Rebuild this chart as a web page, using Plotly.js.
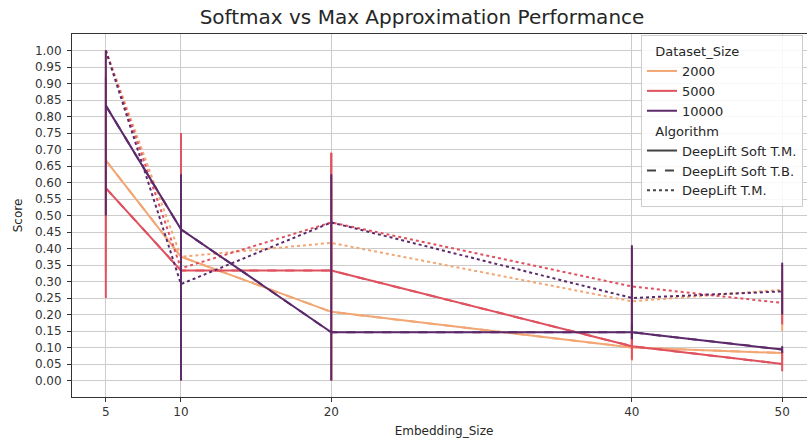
<!DOCTYPE html>
<html><head><meta charset="utf-8">
<script src="https://cdn.plot.ly/plotly-3.0.1.min.js"></script>
<style>html,body{margin:0;padding:0;overflow:hidden;background:#fff}#chart{width:820px;height:443px}</style>
</head><body><div id="chart"></div>
<script>
// ---- data ----
const embeddingSizes = [5, 10, 20, 40, 50];
const datasetSizes = ["2000", "5000", "10000"];
const algorithms = ["DeepLift Soft T.M.", "DeepLift Soft T.B.", "DeepLift T.M."];

// DeepLift Soft T.M. scores
const softTM_2000  = [0.667, 0.375, 0.208, 0.100, 0.083];
const softTM_5000  = [0.583, 0.333, 0.333, 0.104, 0.050];
const softTM_10000 = [0.833, 0.458, 0.146, 0.146, 0.094];
// DeepLift Soft T.B. scores (coincide with Soft T.M.)
const softTB_2000  = [0.667, 0.375, 0.208, 0.100, 0.083];
const softTB_5000  = [0.583, 0.333, 0.333, 0.104, 0.050];
const softTB_10000 = [0.833, 0.458, 0.146, 0.146, 0.094];
// DeepLift T.M. scores
const tm_2000  = [1.000, 0.375, 0.417, 0.240, 0.275];
const tm_5000  = [1.000, 0.340, 0.479, 0.285, 0.235];
const tm_10000 = [1.000, 0.292, 0.479, 0.250, 0.270];

// error bar bounds (lower / upper)
const softTM_2000_lo  = [0.33, 0.25, 0.00, 0.06, 0.06];
const softTM_2000_hi  = [1.00, 0.50, 0.42, 0.14, 0.10];
const softTM_5000_lo  = [0.25, 0.00, 0.00, 0.063, 0.028];
const softTM_5000_hi  = [0.92, 0.75, 0.69, 0.15, 0.09];
const softTM_10000_lo = [0.50, 0.00, 0.00, 0.125, 0.083];
const softTM_10000_hi = [1.00, 0.625, 0.30, 0.17, 0.104];
const tm_2000_lo  = [1.00, 0.25, 0.25, 0.15, 0.15];
const tm_2000_hi  = [1.00, 0.50, 0.58, 0.33, 0.35];
const tm_5000_lo  = [1.00, 0.20, 0.30, 0.10, 0.17];
const tm_5000_hi  = [1.00, 0.50, 0.69, 0.40, 0.30];
const tm_10000_lo = [1.00, 0.10, 0.30, 0.125, 0.20];
const tm_10000_hi = [1.00, 0.50, 0.625, 0.41, 0.357];

const yTickVals = [0,0.05,0.1,0.15,0.2,0.25,0.3,0.35,0.4,0.45,0.5,0.55,0.6,0.65,0.7,0.75,0.8,0.85,0.9,0.95,1.0];

// ---- styles ----
const colors = {"2000": "#f2a674", "5000": "#e0515f", "10000": "#5c2a6b"};
const dashes = {"DeepLift Soft T.M.": "solid", "DeepLift Soft T.B.": "dash", "DeepLift T.M.": "dot"};

function errObj(vals, lo, hi, color) {
  if (!lo) return {visible: false};
  return {type: "data", symmetric: false,
    array: vals.map((v, i) => hi[i] - v),
    arrayminus: vals.map((v, i) => v - lo[i]),
    color: color, thickness: 2, width: 0};
}

const seriesDefs = [
  ["2000", "DeepLift Soft T.M.", softTM_2000, softTM_2000_lo, softTM_2000_hi],
  ["2000", "DeepLift Soft T.B.", softTB_2000, null, null],
  ["2000", "DeepLift T.M.", tm_2000, tm_2000_lo, tm_2000_hi],
  ["5000", "DeepLift Soft T.M.", softTM_5000, softTM_5000_lo, softTM_5000_hi],
  ["5000", "DeepLift Soft T.B.", softTB_5000, null, null],
  ["5000", "DeepLift T.M.", tm_5000, tm_5000_lo, tm_5000_hi],
  ["10000", "DeepLift Soft T.M.", softTM_10000, softTM_10000_lo, softTM_10000_hi],
  ["10000", "DeepLift Soft T.B.", softTB_10000, null, null],
  ["10000", "DeepLift T.M.", tm_10000, tm_10000_lo, tm_10000_hi]
];

const traces = [];
seriesDefs.forEach(([ds, alg, vals, lo, hi]) => {
  traces.push({
    x: embeddingSizes, y: vals, type: "scatter", mode: "lines",
    line: {color: colors[ds], width: 2, dash: dashes[alg]},
    error_y: errObj(vals, lo, hi, colors[ds]),
    showlegend: false, hoverinfo: "skip"
  });
});

// legend entries
datasetSizes.forEach(ds => {
  traces.push({x: [null], y: [null], type: "scatter", mode: "lines", name: ds,
    line: {color: colors[ds], width: 2}, legendgroup: "size",
    legendgrouptitle: {text: "\u00a0\u00a0Dataset_Size", font: {size: 13, color: "#262626"}}});
});
algorithms.forEach(alg => {
  traces.push({x: [null], y: [null], type: "scatter", mode: "lines", name: alg,
    line: {color: "#444444", width: 2, dash: dashes[alg]}, legendgroup: "alg",
    legendgrouptitle: {text: "\u00a0\u00a0Algorithm", font: {size: 13, color: "#262626"}}});
});

const layout = {
  width: 820, height: 443,
  margin: {l: 72, r: 4, t: 34, b: 46},
  paper_bgcolor: "#ffffff", plot_bgcolor: "#ffffff",
  font: {family: "DejaVu Sans, sans-serif", size: 12, color: "#333333"},
  title: {text: "Softmax vs Max Approximation Performance", x: 422/820, xref: "container", xanchor: "center",
    y: 1 - 17/443, yref: "container", yanchor: "middle",
    font: {size: 20, color: "#262626"}},
  xaxis: {
    range: [2.75, 52.25], tickvals: embeddingSizes, ticktext: embeddingSizes.map(String),
    showgrid: true, gridcolor: "#cccccc", gridwidth: 1,
    showline: true, linecolor: "#333333", linewidth: 1, mirror: true,
    ticks: "outside", ticklen: 4, tickcolor: "#333333", zeroline: false,
    tickfont: {size: 12},
    title: {text: "Embedding_Size", font: {size: 12, color: "#262626"}, standoff: 8}
  },
  yaxis: {
    range: [-0.05, 1.05], tickvals: yTickVals, tickformat: ".2f",
    showgrid: true, gridcolor: "#cccccc", gridwidth: 1,
    showline: true, linecolor: "#333333", linewidth: 1, mirror: true,
    ticks: "outside", ticklen: 4, tickcolor: "#333333", zeroline: false,
    tickfont: {size: 12}, ticklabelstandoff: 3,
    title: {text: "Score", font: {size: 12, color: "#262626"}, standoff: 9}
  },
  legend: {
    x: 0.9825, y: 0.997, xanchor: "right", yanchor: "top",
    bgcolor: "rgba(255,255,255,0.85)", bordercolor: "#cccccc", borderwidth: 1,
    font: {size: 13, color: "#262626"}, tracegroupgap: 0, itemwidth: 30,
    groupclick: "toggleitem"
  },
  showlegend: true
};

Plotly.newPlot("chart", traces, layout, {displayModeBar: false, staticPlot: true});
</script>
</body></html>
